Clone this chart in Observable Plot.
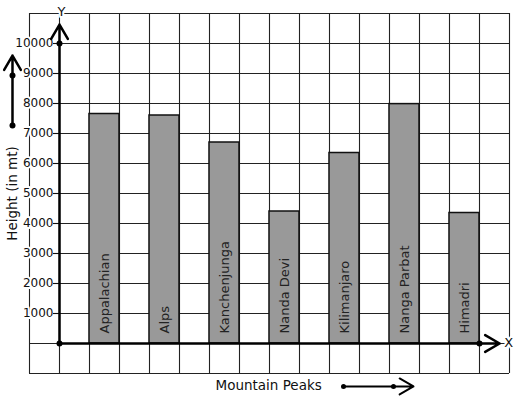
<!DOCTYPE html>
<html><head><meta charset="utf-8">
<script src="https://cdn.jsdelivr.net/npm/d3@7"></script>
<script src="https://cdn.jsdelivr.net/npm/@observablehq/plot@0.6"></script>
<style>body{margin:0;background:#fff}</style>
</head><body><div id="chart"></div>
<script>
const peaks = ["Appalachian", "Alps", "Kanchenjunga", "Nanda Devi", "Kilimanjaro", "Nanga Parbat", "Himadri"];
const heights = [7650, 7600, 6700, 4400, 6350, 7980, 4350];
const yTicks = [1000, 2000, 3000, 4000, 5000, 6000, 7000, 8000, 9000, 10000];
const xTitle = "Mountain Peaks";
const yTitle = "Height (in mt)";

const bars = peaks.map((name, i) => ({name, height: heights[i], x1: 2 * i + 1, x2: 2 * i + 2}));
const gridX = d3.range(-1, 16);
const gridY = d3.range(-1000, 11001, 1000);
const F = "DejaVu Sans";

const chart = Plot.plot({
  width: 517, height: 399,
  marginLeft: 29, marginRight: 8, marginTop: 13, marginBottom: 26,
  x: {domain: [-1, 15], axis: null},
  y: {domain: [-1000, 11000], axis: null},
  style: {fontFamily: F, background: "white", color: "#111"},
  marks: [
    Plot.ruleX(gridX, {x: d => d, y1: -1000, y2: 11000, stroke: "#222", strokeWidth: 1.1}),
    Plot.ruleY(gridY, {y: d => d, x1: -1, x2: 15, stroke: "#222", strokeWidth: 1.1}),
    Plot.rect(bars, {x1: "x1", x2: "x2", y1: 0, y2: "height", fill: "#999", stroke: "#111", strokeWidth: 1.5}),
    Plot.text(bars, {x: d => (d.x1 + d.x2) / 2, y: 333, text: "name", rotate: -90, textAnchor: "start", fontSize: 13, fill: "#222"}),
    Plot.text(yTicks, {x: -0.2, y: d => d, text: d => String(d), textAnchor: "end", fontSize: 12, fill: "#111", stroke: "white", strokeWidth: 4, paintOrder: "stroke"}),
    Plot.ruleY(yTicks, {y: d => d, x1: -0.2, x2: 0, stroke: "#111", strokeWidth: 1.1}),
    Plot.text([yTitle], {x: -1.567, y: 5000, text: d => d, rotate: -90, fontSize: 13.5, fill: "#111"}),
    Plot.text(["Y"], {x: 0.067, y: 11050, text: d => d, fontSize: 13, fill: "#111", stroke: "white", strokeWidth: 4, paintOrder: "stroke"}),
    Plot.text(["X"], {x: 14.97, y: 33, text: d => d, fontSize: 13, fill: "#111", stroke: "white", strokeWidth: 4, paintOrder: "stroke"}),
    Plot.text([xTitle], {x: 5.2, y: -1400, text: d => d, textAnchor: "start", fontSize: 13.5, fill: "#111"}),
    // y axis
    Plot.arrow([0], {x1: 0, y1: 0, x2: 0, y2: 10633, stroke: "#000", strokeWidth: 2.5, headLength: 10, headAngle: 60}),
    // x axis
    Plot.arrow([0], {x1: 0, y1: 0, x2: 14.67, y2: 0, stroke: "#000", strokeWidth: 2.5, headLength: 10, headAngle: 60}),
    // left arrow
    Plot.arrow([0], {x1: -1.567, y1: 7267, x2: -1.567, y2: 9600, stroke: "#000", strokeWidth: 2.5, headLength: 10, headAngle: 60}),
    // bottom arrow
    Plot.arrow([0], {x1: 9.467, y1: -1433, x2: 11.8, y2: -1433, stroke: "#000", strokeWidth: 2, headLength: 12, headAngle: 60}),
    Plot.dot([[0, 10000], [0, 0], [14, 0]], {x: d => d[0], y: d => d[1], r: 3, fill: "#000"}),
    Plot.dot([[-1.567, 7267], [-1.567, 8933]], {x: d => d[0], y: d => d[1], r: 3, fill: "#000"}),
    Plot.dot([[9.467, -1433], [11.133, -1433]], {x: d => d[0], y: d => d[1], r: 2.5, fill: "#000"})
  ]
});
document.getElementById("chart").appendChild(chart);
</script>
</body></html>
